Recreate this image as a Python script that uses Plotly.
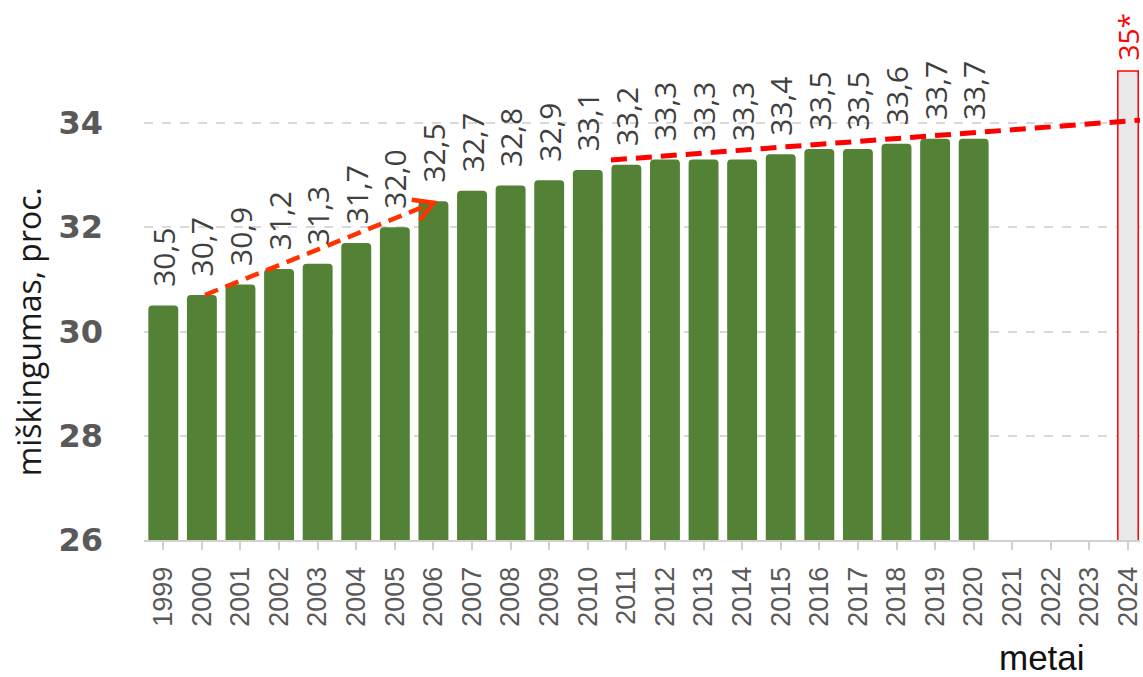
import math
import plotly.graph_objects as go

# ---- data ----
years = [str(y) for y in range(1999, 2025)]
bar_years = [str(y) for y in range(1999, 2021)]
forest_pct = [30.5, 30.7, 30.9, 31.2, 31.3, 31.7, 32.0, 32.5, 32.7, 32.8, 32.9,
              33.1, 33.2, 33.3, 33.3, 33.3, 33.4, 33.5, 33.5, 33.6, 33.7, 33.7]
target_year = ["2024"]
target_pct = [35]
target_label = ["35*"]
y_ticks = [26, 28, 30, 32, 34]

# trend annotations (data coordinates: year index, percent)
trend1 = [(1.08, 30.7), (7.0, 32.47)]
trend2 = [(11.6, 33.29), (25.4, 34.06)]

# ---- layout geometry ----
W, H = 1143, 677
ML, MR, MT, MB = 144, 0, 0, 137
x_range = [-0.5, 25.31]
y_range = [26, 36.36]
px_x = (W - ML - MR) / (x_range[1] - x_range[0])
px_y = (H - MT - MB) / (y_range[1] - y_range[0])

idx = {y: i for i, y in enumerate(years)}
NB = "\u00a0"

fig = go.Figure()

fig.add_trace(go.Bar(
    x=[idx[y] for y in bar_years], y=forest_pct,
    marker=dict(color="#538135", cornerradius=4, line=dict(width=0)),
    width=0.775,
    text=[NB * 2 + f"{v:.1f}".replace(".", ",") for v in forest_pct],
    textposition="outside", textangle=-90, constraintext="none",
    textfont=dict(family="Open Sans", size=30, color="#404040"),
    cliponaxis=False, showlegend=False, hoverinfo="skip",
))

fig.add_trace(go.Bar(
    x=[idx[y] for y in target_year], y=target_pct,
    marker=dict(color="#e8e8e8", line=dict(color="#ff0000", width=1.5)),
    width=0.53,
    text=[NB + t for t in target_label],
    textposition="outside", textangle=-90, constraintext="none",
    textfont=dict(family="Open Sans", size=28, color="#ff0000"),
    cliponaxis=False, showlegend=False, hoverinfo="skip",
))

# dashed trend lines
fig.add_shape(type="line", x0=trend1[0][0], y0=trend1[0][1], x1=trend1[1][0], y1=trend1[1][1],
              xref="x", yref="y", line=dict(color="#ff3300", width=4.5, dash="14px,8px"))
fig.add_shape(type="line", x0=trend2[0][0], y0=trend2[0][1], x1=trend2[1][0], y1=trend2[1][1],
              xref="x", yref="y", line=dict(color="#ff0000", width=5, dash="16px,9px"))

# arrowhead (open chevron) at end of trend1
(sx, sy), (ex, ey) = trend1
dxp, dyp = (ex - sx) * px_x, (ey - sy) * px_y
L = math.hypot(dxp, dyp)
ux, uy = -dxp / L, -dyp / L
wing = 22
wings = []
for a in (math.radians(30), math.radians(-30)):
    rx = ux * math.cos(a) - uy * math.sin(a)
    ry = ux * math.sin(a) + uy * math.cos(a)
    wings.append((ex + rx * wing / px_x, ey + ry * wing / px_y))
fig.add_trace(go.Scatter(
    x=[wings[0][0], ex, wings[1][0]], y=[wings[0][1], ey, wings[1][1]],
    mode="lines", line=dict(color="#ff3300", width=4.5),
    showlegend=False, hoverinfo="skip",
))

fig.update_layout(
    width=W, height=H,
    margin=dict(l=ML, r=MR, t=MT, b=MB, pad=0),
    plot_bgcolor="white", paper_bgcolor="white",
    barmode="overlay",
    showlegend=False,
)

fig.update_xaxes(
    range=x_range, tickmode="array",
    tickvals=list(range(len(years))), ticktext=years,
    tickangle=-90,
    tickfont=dict(family="Liberation Sans", size=27, color="#595959"),
    ticks="outside", ticklen=8, tickcolor="#d0d0d0", tickwidth=1.5,
    showline=True, linecolor="#d0d0d0", linewidth=2,
    showgrid=False, zeroline=False,
    ticklabelstandoff=6, ticklabeloverflow="allow",
)
fig.update_yaxes(
    range=y_range, tickmode="array", tickvals=y_ticks,
    tickfont=dict(family="DejaVu Sans", size=32, color="#595959", weight="bold"),
    showgrid=True, gridcolor="#d9d9d9", gridwidth=1.5, griddash="dash",
    zeroline=False, showline=False, ticks="",
    ticklabelstandoff=40,
)

# y-axis title (rotated), positioned as in the reference
fig.add_annotation(
    text="miškingumas, proc.", xref="paper", yref="paper",
    x=-(ML - 28) / (W - ML - MR), y=1 - 332 / (H - MT - MB),
    xanchor="center", yanchor="middle", textangle=-90, showarrow=False,
    font=dict(family="Open Sans", size=32, color="#1a1a1a"),
)
# x-axis title
fig.add_annotation(
    text="metai", xref="paper", yref="paper",
    x=(1045 - ML) / (W - ML - MR), y=-(657 - (H - MB)) / (H - MT - MB),
    xanchor="center", yanchor="middle", showarrow=False,
    font=dict(family="Liberation Sans", size=35, color="#111111"),
)

fig.write_html("out.html", config={"displayModeBar": False},
               post_script="document.body.style.margin='0';")
